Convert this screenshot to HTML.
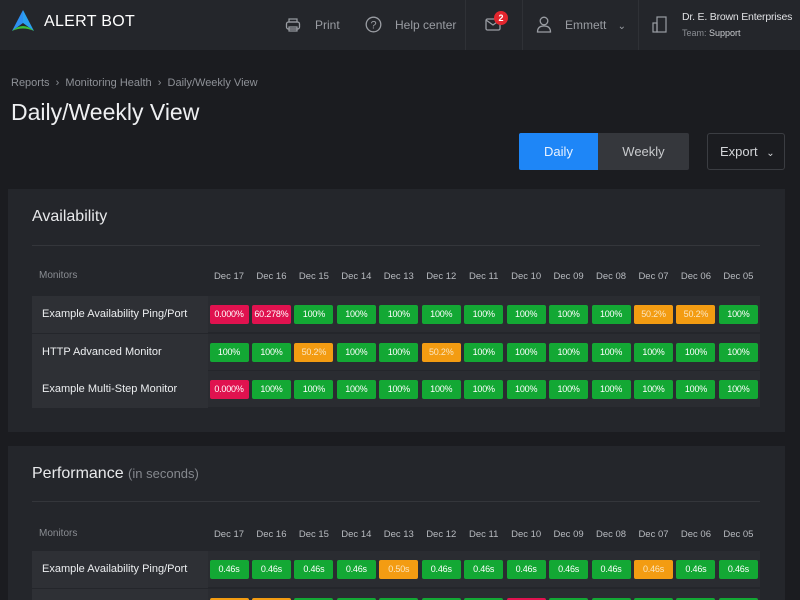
<!DOCTYPE html>
<html style="width:800px;height:600px;overflow:hidden"><head><meta charset="utf-8">
<style>
*{box-sizing:border-box;margin:0;padding:0}
body{width:800px;height:600px;overflow:hidden;background:#1b1c20;font-family:"Liberation Sans",sans-serif;color:#e6e7e9;position:relative}
.abs{position:absolute}
#hdr{left:0;top:0;width:800px;height:50px;background:#24262b}
.sep{position:absolute;top:0;width:1px;height:50px;background:#2f3136}
.nav{position:absolute;top:18px;font-size:12px;color:#9a9da3;white-space:nowrap}
.panel{position:absolute;left:8px;width:777px;background:#24262b;overflow:hidden}
.ptitle{position:absolute;left:24px;font-size:16px;color:#e8e9eb}
.hline{position:absolute;left:24px;width:728px;height:1px;background:#34363b}
.tbl{position:absolute;left:24px;width:728px}
.th{position:absolute;font-size:9.5px;color:#b8bbc0;text-align:center;width:42px;white-space:nowrap}
.row{position:absolute;left:0;width:728px;height:37px;background:#2a2c31;border-bottom:1px solid #24262b}
.lbl{position:absolute;left:0;top:0;width:176px;height:37px;background:#2e3035;font-size:11px;line-height:37px;padding-left:10px;color:#eceef0;white-space:nowrap}
.cell{position:absolute;top:9px;width:39px;height:19px;border-radius:2px;font-size:9px;letter-spacing:-0.2px;line-height:19px;text-align:center;color:#fff;white-space:nowrap;overflow:hidden}
.g{background:#13a834}.o{background:#f39c12;color:#fbe6c0}.r{background:#e0124f}
</style></head><body>
<div id="hdr" class="abs">
 <svg class="abs" style="left:10px;top:9px" width="26" height="24"><polygon points="13,1 2,22 13,14" fill="#2f8ff0"/><polygon points="13,1 24,22 13,14" fill="#2aa0f0"/><path d="M2 22 Q13 12 24 22 Q13 17 2 22Z" fill="#3cc13b"/></svg>
 <div class="abs" style="left:44px;top:13px;font-size:16px;letter-spacing:0.3px;color:#fff">ALERT BOT</div>
 <svg class="abs" style="left:285px;top:17px" width="16" height="16"><rect x="1.5" y="5" width="13" height="7" rx="2" fill="none" stroke="#9a9da3" stroke-width="1.3"/><rect x="4" y="2" width="8" height="3" fill="none" stroke="#9a9da3" stroke-width="1.2"/><rect x="4" y="10" width="8" height="4" fill="none" stroke="#9a9da3" stroke-width="1.2"/></svg>
 <div class="nav" style="left:315px">Print</div>
 <svg class="abs" style="left:365px;top:16px" width="17" height="17"><circle cx="8.5" cy="8.5" r="7.3" fill="none" stroke="#9a9da3" stroke-width="1.3"/><text x="8.5" y="12.5" font-size="11" fill="#9a9da3" text-anchor="middle" font-family="Liberation Sans">?</text></svg>
 <div class="nav" style="left:395px">Help center</div>
 <div class="sep" style="left:465px"></div>
 <svg class="abs" style="left:485px;top:18px" width="16" height="13"><rect x="1" y="1" width="14" height="11" rx="1.5" fill="none" stroke="#9a9da3" stroke-width="1.3"/><path d="M1 2 L8 7 L15 2" fill="none" stroke="#9a9da3" stroke-width="1.2"/></svg>
 <div class="abs" style="left:494px;top:11px;width:14px;height:14px;border-radius:7px;background:#e3262e;font-size:9px;font-weight:bold;text-align:center;line-height:14px;color:#fff">2</div>
 <div class="sep" style="left:522px"></div>
 <svg class="abs" style="left:536px;top:16px" width="16" height="17"><circle cx="8" cy="5" r="3.8" fill="none" stroke="#9a9da3" stroke-width="1.3"/><path d="M1.5 16 Q1.5 10 8 10 Q14.5 10 14.5 16Z" fill="none" stroke="#9a9da3" stroke-width="1.3"/></svg>
 <div class="nav" style="left:565px">Emmett <span style="font-size:10px;margin-left:8px">&#8964;</span></div>
 <div class="sep" style="left:638px"></div>
 <svg class="abs" style="left:652px;top:16px" width="15" height="17"><rect x="5" y="1" width="9" height="15" fill="none" stroke="#9a9da3" stroke-width="1.2"/><rect x="1" y="7" width="4" height="9" fill="none" stroke="#9a9da3" stroke-width="1.2"/></svg>
 <div class="abs" style="left:682px;top:11px;font-size:10.5px;color:#dfe0e3;white-space:nowrap;letter-spacing:-0.2px">Dr. E. Brown Enterprises</div>
 <div class="abs" style="left:682px;top:28px;font-size:9px;color:#8a8d93;white-space:nowrap">Team: <span style="color:#c9cbcf">Support</span></div>
</div>
<div class="abs" style="left:11px;top:77px;font-size:11px;color:#8e9197;white-space:nowrap">Reports &nbsp;›&nbsp; Monitoring Health &nbsp;›&nbsp; Daily/Weekly View</div>
<div class="abs" style="left:11px;top:99px;font-size:23px;color:#eeeff1;white-space:nowrap">Daily/Weekly View</div>
<div class="abs" style="left:519px;top:133px;width:79px;height:37px;background:#1e86f7;border-radius:2px 0 0 2px;font-size:13px;line-height:37px;text-align:center;color:#eaf3ff">Daily</div>
<div class="abs" style="left:598px;top:133px;width:91px;height:37px;background:#35373c;border-radius:0 2px 2px 0;font-size:13px;line-height:37px;text-align:center;color:#c8cacd">Weekly</div>
<div class="abs" style="left:707px;top:133px;width:78px;height:37px;border:1px solid #3b3d42;border-radius:3px;font-size:13px;line-height:35px;padding-left:12px;color:#d4d6d9;white-space:nowrap">Export <span style="font-size:10px;margin-left:5px">&#8964;</span></div>

<div class="panel" style="top:189px;height:243px">
 <div class="ptitle" style="top:19px">Availability</div>
 <div class="hline" style="top:56px"></div>
 <div class="tbl" id="t1" style="top:81px"></div>
</div>
<div class="panel" style="top:446px;height:154px">
 <div class="ptitle" style="top:19px">Performance <span style="font-size:13px;color:#85888e">(in seconds)</span></div>
 <div class="hline" style="top:55px"></div>
 <div class="tbl" id="t2" style="top:82px"></div>
</div>
<script>
const dates=["Dec 17","Dec 16","Dec 15","Dec 14","Dec 13","Dec 12","Dec 11","Dec 10","Dec 09","Dec 08","Dec 07","Dec 06","Dec 05"];
const availMonitors=["Example Availability Ping/Port","HTTP Advanced Monitor","Example Multi-Step Monitor"];
const availRow1=["0.000%","60.278%","100%","100%","100%","100%","100%","100%","100%","100%","50.2%","50.2%","100%"];
const availRow1C=["r","r","g","g","g","g","g","g","g","g","o","o","g"];
const availRow2=["100%","100%","50.2%","100%","100%","50.2%","100%","100%","100%","100%","100%","100%","100%"];
const availRow2C=["g","g","o","g","g","o","g","g","g","g","g","g","g"];
const availRow3=["0.000%","100%","100%","100%","100%","100%","100%","100%","100%","100%","100%","100%","100%"];
const availRow3C=["r","g","g","g","g","g","g","g","g","g","g","g","g"];
const perfMonitors=["Example Availability Ping/Port","HTTP Advanced Monitor"];
const perfRow1=["0.46s","0.46s","0.46s","0.46s","0.50s","0.46s","0.46s","0.46s","0.46s","0.46s","0.46s","0.46s","0.46s"];
const perfRow1C=["g","g","g","g","o","g","g","g","g","g","o","g","g"];
const perfRow2=["0.60s","0.60s","0.46s","0.46s","0.46s","0.46s","0.46s","0.90s","0.46s","0.46s","0.46s","0.46s","0.46s"];
const perfRow2C=["o","o","g","g","g","g","g","r","g","g","g","g","g"];
function colX(i){return 176+i*42.45;}
function build(id,monitors,vals,cols,rowTop){
 const t=document.getElementById(id);
 const m=document.createElement('div');
 
 
 m.style.cssText='position:absolute;left:7px;top:0;font-size:10px;color:#8a8d93';
 m.textContent='Monitors';t.appendChild(m);
 dates.forEach((d,i)=>{const h=document.createElement('div');
  
  
  h.className='th';h.style.left=(colX(i)+0)+'px';h.style.top='1px';h.textContent=d;t.appendChild(h);});
 monitors.forEach((mn,r)=>{const row=document.createElement('div');
  
  
  row.className='row';row.style.top=(rowTop+r*37.5)+'px';
  const l=document.createElement('div');
  
  
  l.className='lbl';l.textContent=mn;row.appendChild(l);
  vals[r].forEach((v,i)=>{const c=document.createElement('div');
   
   
   c.className='cell '+cols[r][i];c.style.left=(colX(i)+1.5)+'px';c.textContent=v;row.appendChild(c);});
  t.appendChild(row);});
}
build('t1',availMonitors,[availRow1,availRow2,availRow3],[availRow1C,availRow2C,availRow3C],26);
build('t2',perfMonitors,[perfRow1,perfRow2],[perfRow1C,perfRow2C],23);
</script>
</body></html>
